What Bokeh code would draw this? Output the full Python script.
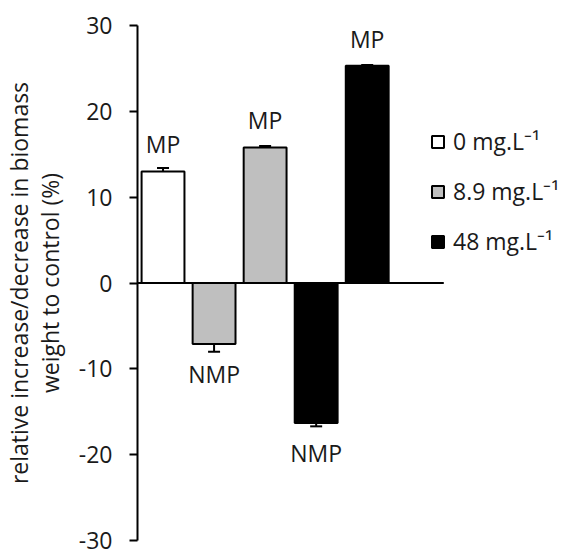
from bokeh.plotting import figure
from bokeh.models import ColumnDataSource, Whisker, TeeHead, FixedTicker, Range1d, LabelSet
from bokeh.embed import file_html
from bokeh.resources import INLINE
from bokeh.core.properties import value
import numpy as np

# ---- data ----
groups = ["0 mg.L\u207b\u00b9", "8.9 mg.L\u207b\u00b9", "48 mg.L\u207b\u00b9"]
group_colors = ["white", "#bfbfbf", "black"]
bar_group = [0, 1, 1, 2, 2]
values = [13.0, -7.1, 15.8, -16.3, 25.3]
errors = [0.4, 0.9, 0.15, 0.4, 0.1]
labels = ["MP", "NMP", "MP", "NMP", "MP"]
y_ticks = [-30, -20, -10, 0, 10, 20, 30]
y_title = ["relative increase/decrease in biomass", "weight to control (%)"]

FONT = "Open Sans"
FS = "23px"
TXT = "#1a1a1a"

n = len(values)
xs = np.arange(n) + 0.5
vals = np.array(values)
errs = np.array(errors)

src = ColumnDataSource(dict(
    x=xs, top=vals,
    grp=[groups[g] for g in bar_group],
    color=[group_colors[g] for g in bar_group],
    upper=vals + errs, lower=vals - errs,
    lab=labels,
    yoff=[27 if v >= 0 else -30 for v in values],
))

p = figure(width=561, height=552, output_backend="svg", toolbar_location=None,
           x_range=Range1d(0, 8.306), y_range=Range1d(-30, 30),
           x_axis_location=None, min_border_left=136, min_border_right=0,
           min_border_top=25, min_border_bottom=12)
p.outline_line_color = None
p.xgrid.visible = False
p.ygrid.visible = False

p.vbar(x="x", top="top", bottom=0, width=0.84, source=src,
       fill_color="color", line_color="black", line_width=2, legend_field="grp")

w = Whisker(base="x", upper="upper", lower="lower", source=src,
            line_color="black", line_width=2,
            upper_head=TeeHead(size=12, line_color="black", line_width=2),
            lower_head=TeeHead(size=12, line_color="black", line_width=2))
p.add_layout(w)

p.segment(x0=0, y0=0, x1=n + 1, y1=0, line_color="black", line_width=2)

ls = LabelSet(x="x", y="top", text="lab", y_offset="yoff", source=src,
              text_align="center", text_baseline="middle",
              text_font=value(FONT), text_font_size=FS, text_color=TXT)
p.add_layout(ls)

ax = p.yaxis[0]
ax.ticker = FixedTicker(ticks=y_ticks)
ax.major_label_overrides = {t: str(t) for t in y_ticks}
ax.axis_line_width = 2
ax.major_tick_line_width = 2
ax.major_tick_out = 8
ax.major_tick_in = 0
ax.minor_tick_line_color = None
ax.major_label_standoff = 17
ax.major_label_text_font = FONT
ax.major_label_text_font_size = FS
ax.major_label_text_color = TXT
ax.axis_label = "\n".join(y_title)
ax.axis_label_text_font = FONT
ax.axis_label_text_font_size = "23px"
ax.axis_label_text_font_style = "normal"
ax.axis_label_text_color = TXT
ax.axis_label_standoff = 10
ax.axis_label_text_line_height = 0.95

lg = p.legend[0]
lg.location = (293, 283)
lg.border_line_alpha = 0
lg.background_fill_alpha = 0
lg.glyph_width = 15
lg.glyph_height = 15
lg.label_standoff = 8
lg.label_height = 30
lg.spacing = 18
lg.padding = 0
lg.margin = 0
lg.label_text_font = FONT
lg.label_text_font_size = FS
lg.label_text_color = TXT

open("out.html", "w").write(file_html(p, INLINE))
